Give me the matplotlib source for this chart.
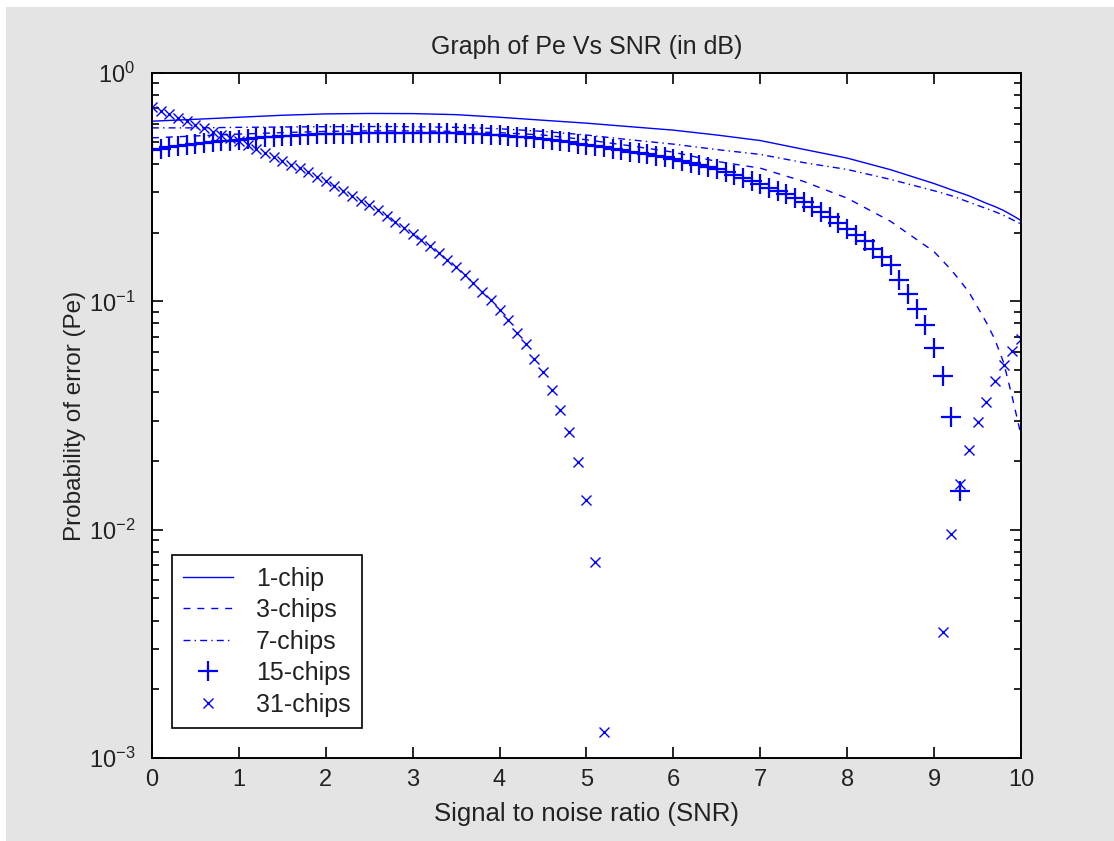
#!/usr/bin/env python3
"""
Probability of error vs SNR for several chip counts (log scale).
"""

import matplotlib
matplotlib.use("Agg")
import matplotlib.pyplot as plt
from matplotlib.patches import Rectangle
from matplotlib.ticker import FixedLocator, LogLocator

nan = float("nan")

# SNR grid used by the marker series (every 0.1)
snr_fine = [i / 10 for i in range(101)]

# SNR grid used by the line series
snr_line = [0, 0.5, 1, 1.5, 2, 2.5, 3, 3.5, 4, 4.5, 5, 5.5, 6, 6.5, 7, 7.5,
            8, 8.5, 9, 9.2, 9.4, 9.6, 9.7, 9.8, 9.9, 10]

pe_1chip = [0.615, 0.627, 0.640, 0.653, 0.662, 0.665, 0.664, 0.657, 0.640,
            0.621, 0.603, 0.582, 0.562, 0.535, 0.506, 0.463, 0.424, 0.377,
            0.328, 0.308, 0.290, 0.269, 0.260, 0.250, 0.238, 0.226]

pe_3chips = [0.520, 0.530, 0.540, 0.548, 0.555, 0.558, 0.558, 0.555, 0.548,
             0.535, 0.510, 0.480, 0.450, 0.410, 0.383, 0.335, 0.283, 0.224,
             0.165, 0.137, 0.110, 0.081, 0.068, 0.054, 0.038, 0.026]

pe_7chips = [0.575, 0.575, 0.578, 0.580, 0.582, 0.583, 0.582, 0.578, 0.570,
             0.555, 0.535, 0.510, 0.488, 0.462, 0.440, 0.405, 0.378, 0.342,
             0.305, 0.290, 0.272, 0.255, 0.247, 0.238, 0.228, 0.218]

pe_15chips = [0.460, 0.467, 0.473, 0.479, 0.485, 0.490, 0.494, 0.498, 0.502,
              0.506, 0.510, 0.514, 0.518, 0.522, 0.526, 0.530, 0.532, 0.534,
              0.536, 0.538, 0.540, 0.541, 0.542, 0.543, 0.544, 0.545, 0.546,
              0.547, 0.547, 0.548, 0.548, 0.548, 0.547, 0.547, 0.546, 0.545,
              0.543, 0.541, 0.539, 0.537, 0.535, 0.531, 0.527, 0.522, 0.518,
              0.513, 0.508, 0.502, 0.497, 0.491, 0.485, 0.479, 0.472, 0.466,
              0.459, 0.452, 0.446, 0.440, 0.433, 0.427, 0.420, 0.412, 0.404,
              0.396, 0.388, 0.380, 0.369, 0.358, 0.347, 0.336, 0.325, 0.315,
              0.304, 0.294, 0.283, 0.272, 0.260, 0.246, 0.233, 0.220, 0.207,
              0.196, 0.183, 0.170, 0.157, 0.144, 0.124, 0.108, 0.093, 0.0785,
              0.0626, 0.0473, 0.0311, 0.0148] + [nan] * 7

pe_31chips = [0.710, 0.685, 0.660, 0.637, 0.614, 0.593, 0.573, 0.554, 0.537,
              0.520, 0.503, 0.484, 0.465, 0.446, 0.427, 0.411, 0.396, 0.382,
              0.368, 0.352, 0.336, 0.320, 0.305, 0.290, 0.276, 0.263, 0.250,
              0.236, 0.223, 0.210, 0.198, 0.186, 0.174, 0.163, 0.152, 0.141,
              0.130, 0.120, 0.110, 0.101, 0.092, 0.083, 0.073, 0.065, 0.056,
              0.049, 0.041, 0.0335, 0.0267, 0.0197, 0.0135, 0.0072,
              0.0013] + [nan] * 38 + [0.00355, 0.0096, 0.0159, 0.0224,
                                      0.0296, 0.0364, 0.0446, 0.0524,
                                      0.0604, 0.0686]

plt.rcParams["font.family"] = ["Liberation Sans", "DejaVu Sans"]
plt.rcParams["mathtext.default"] = "regular"
plt.rcParams["font.size"] = 17

blue = "#0000ff"
txt = "#222222"

fig = plt.figure(figsize=(11.14, 8.41), dpi=100, facecolor="white")
# grey window background with a thin white strip on top/left
fig.patches.append(Rectangle((6 / 1114, 0), 1, 1 - 7 / 841, transform=fig.transFigure,
                             facecolor="#e4e4e4", edgecolor="none", zorder=-10))

ax = fig.add_axes([0.1364, 0.0987, 0.7801, 0.8145])
ax.set_yscale("log")

ax.plot(snr_line, pe_1chip, "-", color=blue, lw=1.0, label="1-chip")
ax.plot(snr_line, pe_3chips, color=blue, lw=1.0, dashes=(5, 5), label="3-chips")
ax.plot(snr_line, pe_7chips, color=blue, lw=1.0, dashes=(5, 3, 1, 3), label="7-chips")
ax.plot(snr_fine, pe_15chips, "+", color=blue, ms=14, mew=1.6, label="15-chips")
ax.plot(snr_fine, pe_31chips, "x", color=blue, ms=7, mew=1.0, label="31-chips")

ax.set_xlim(0, 10)
ax.set_ylim(1e-3, 1)
ax.xaxis.set_major_locator(FixedLocator(range(11)))
ax.yaxis.set_major_locator(LogLocator(base=10, numticks=10))
ax.yaxis.set_minor_locator(LogLocator(base=10, subs=range(2, 10), numticks=10))

ax.tick_params(which="both", direction="in", top=True, right=True, width=1.2,
               colors="black", labelcolor=txt)
ax.tick_params(which="major", length=8)
ax.tick_params(which="minor", length=5)
ax.tick_params(axis="x", pad=8)
ax.tick_params(axis="y", pad=12)
for s in ax.spines.values():
    s.set_linewidth(1.4)

ax.set_title("Graph of Pe Vs SNR (in dB)", fontsize=18, pad=14, color=txt)
ax.set_xlabel("Signal to noise ratio (SNR)", fontsize=18.5, labelpad=8, color=txt)
ax.set_ylabel("Probability of error (Pe)", fontsize=17.5, labelpad=2, color=txt)

leg = ax.legend(loc="lower left", bbox_to_anchor=(0.023, 0.044), borderaxespad=0,
                fancybox=False, framealpha=1, edgecolor="black", fontsize=18,
                handlelength=2.0, labelspacing=0.3, borderpad=0.45,
                handletextpad=0.9)
leg.get_frame().set_linewidth(1.2)
for t in leg.get_texts():
    t.set_color(txt)

fig.savefig("out.png", dpi=100, facecolor=fig.get_facecolor())
